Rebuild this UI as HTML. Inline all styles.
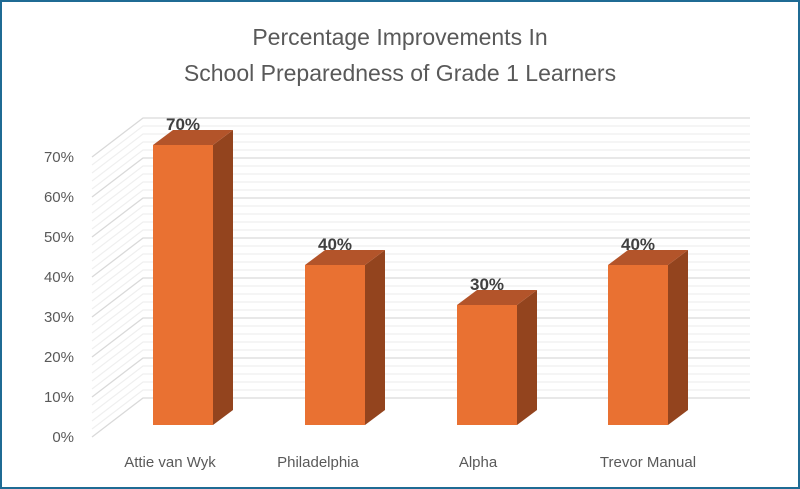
<!DOCTYPE html>
<html><head><meta charset="utf-8"><style>
html,body{margin:0;padding:0;background:#fff}
svg{display:block}
text{font-family:"Liberation Sans",sans-serif}
</style></head><body>
<svg width="800" height="489" viewBox="0 0 800 489" xmlns="http://www.w3.org/2000/svg">
<rect x="1" y="1" width="798" height="487" fill="#fff" stroke="#1f6b94" stroke-width="2"/>
<text x="400" y="45" text-anchor="middle" font-size="23" fill="#595959">Percentage Improvements In</text>
<text x="400" y="81" text-anchor="middle" font-size="23" fill="#595959">School Preparedness of Grade 1 Learners</text>
<path fill="none" stroke="#efefef" stroke-width="1.2" d="
M92 429L143 390L750 390 M92 421L143 382L750 382 M92 413L143 374L750 374 M92 405L143 366L750 366
M92 389L143 350L750 350 M92 381L143 342L750 342 M92 373L143 334L750 334 M92 365L143 326L750 326
M92 349L143 310L750 310 M92 341L143 302L750 302 M92 333L143 294L750 294 M92 325L143 286L750 286
M92 309L143 270L750 270 M92 301L143 262L750 262 M92 293L143 254L750 254 M92 285L143 246L750 246
M92 269L143 230L750 230 M92 261L143 222L750 222 M92 253L143 214L750 214 M92 245L143 206L750 206
M92 229L143 190L750 190 M92 221L143 182L750 182 M92 213L143 174L750 174 M92 205L143 166L750 166
M92 189L143 150L750 150 M92 181L143 142L750 142 M92 173L143 134L750 134 M92 165L143 126L750 126"/>
<path fill="none" stroke="#d9d9d9" stroke-width="1.3" d="
M92 437L143 398L750 398 M92 397L143 358L750 358 M92 357L143 318L750 318 M92 317L143 278L750 278
M92 277L143 238L750 238 M92 237L143 198L750 198 M92 197L143 158L750 158 M92 157L143 118L750 118"/>
<g font-size="15" fill="#595959" text-anchor="end">
<text x="74" y="442">0%</text><text x="74" y="402">10%</text><text x="74" y="362">20%</text><text x="74" y="322">30%</text>
<text x="74" y="282">40%</text><text x="74" y="242">50%</text><text x="74" y="202">60%</text><text x="74" y="162">70%</text>
</g>
<g font-size="15" fill="#595959" text-anchor="middle">
<text x="170" y="467">Attie van Wyk</text><text x="318" y="467">Philadelphia</text>
<text x="478" y="467">Alpha</text><text x="648" y="467">Trevor Manual</text>
</g>
<g>
<polygon points="213,145 233,130 233,410 213,425" fill="#93441e"/>
<polygon points="153,145 173,130 233,130 213,145" fill="#b3542a"/>
<rect x="153" y="145" width="60" height="280" fill="#e97132"/>
<polygon points="365,265 385,250 385,410 365,425" fill="#93441e"/>
<polygon points="305,265 325,250 385,250 365,265" fill="#b3542a"/>
<rect x="305" y="265" width="60" height="160" fill="#e97132"/>
<polygon points="517,305 537,290 537,410 517,425" fill="#93441e"/>
<polygon points="457,305 477,290 537,290 517,305" fill="#b3542a"/>
<rect x="457" y="305" width="60" height="120" fill="#e97132"/>
<polygon points="668,265 688,250 688,410 668,425" fill="#93441e"/>
<polygon points="608,265 628,250 688,250 668,265" fill="#b3542a"/>
<rect x="608" y="265" width="60" height="160" fill="#e97132"/>
</g>
<g font-size="17" font-weight="bold" fill="#404040" text-anchor="middle">
<text x="183" y="130">70%</text><text x="335" y="250">40%</text>
<text x="487" y="290">30%</text><text x="638" y="250">40%</text>
</g>
</svg>
</body></html>
